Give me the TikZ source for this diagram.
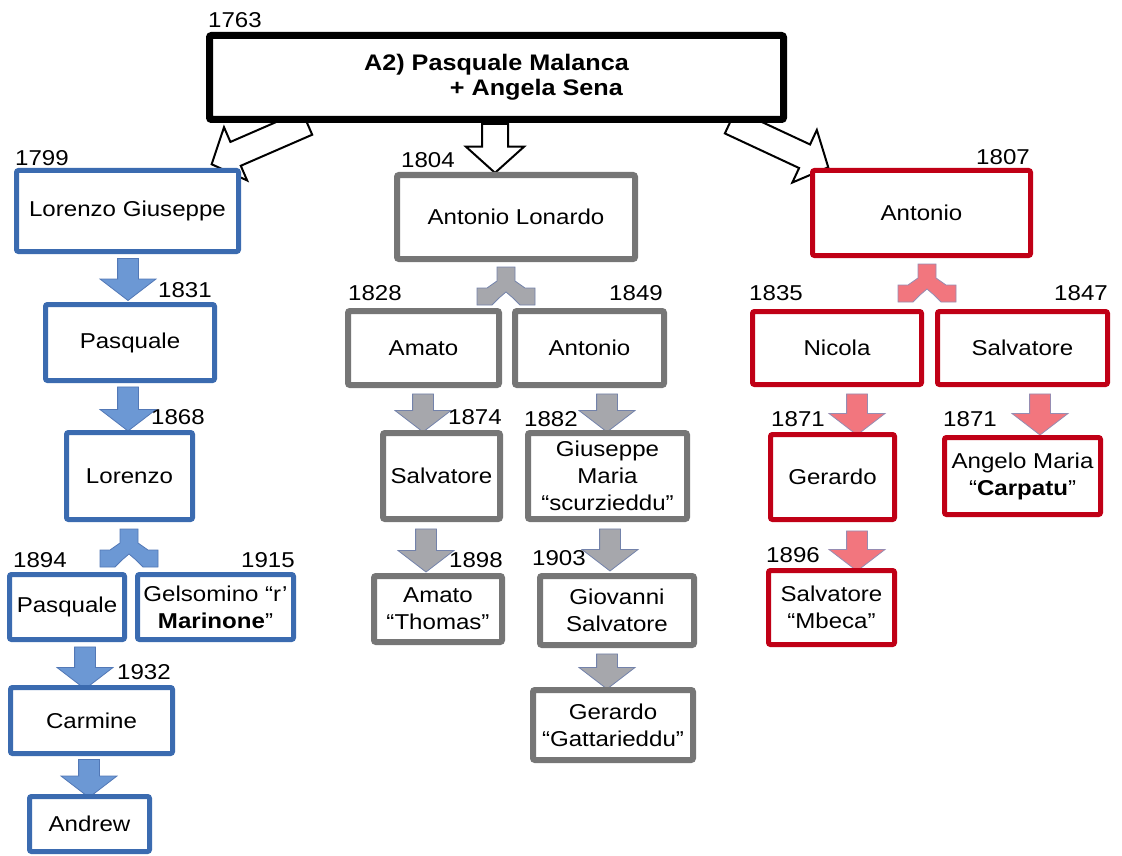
\documentclass[tikz,border=0pt]{standalone}
\usepackage{fontspec}
\setmainfont{Liberation Sans}[FakeStretch=1.12]
\usetikzlibrary{shapes.arrows}

\definecolor{boxblue}{RGB}{59,107,176}
\definecolor{boxgrey}{RGB}{118,118,118}
\definecolor{boxred}{RGB}{192,0,22}
\definecolor{arrblue}{RGB}{108,152,212}
\definecolor{arrblueline}{RGB}{82,120,182}
\definecolor{arrgrey}{RGB}{166,167,172}
\definecolor{arrgreyline}{RGB}{115,130,170}
\definecolor{arrred}{RGB}{242,118,126}
\definecolor{arrredline}{RGB}{150,140,178}

\tikzset{
  every node/.style={font=\fontsize{21.5}{27}\selectfont},
  famnode/.style={draw, fill=white, rounded corners=2pt, inner sep=0pt, align=center},
  topbox/.style={famnode, draw=black, line width=7pt},
  blubox/.style={famnode, draw=boxblue, line width=5pt},
  grybox/.style={famnode, draw=boxgrey, line width=6pt},
  redbox/.style={famnode, draw=boxred, line width=5pt},
  year/.style={inner sep=0pt},
  whitearr/.style={single arrow, fill=white, draw=black, line width=2pt, inner xsep=0pt, inner ysep=12pt,
    single arrow head extend=16pt, single arrow tip angle=96},
  downarr/.style={single arrow, rotate=-90, line width=0.8pt, inner xsep=0pt, inner ysep=10pt,
    single arrow head extend=17.5pt, single arrow tip angle=105, minimum height=42pt},
  bluarr/.style={downarr, fill=arrblue, draw=arrblueline},
  gryarr/.style={downarr, fill=arrgrey, draw=arrgreyline},
  redarr/.style={downarr, fill=arrred, draw=arrredline},
}

% fork arrow: top centre x, y, style
\newcommand{\splitarrow}[3]{%
  \draw[#3, line width=0.8pt, shift={(#1,#2)}] (-9,0) -- (9,0) -- (9,14) -- (19,21) -- (29,21) -- (29,38)
    -- (14,38) -- (7,31) -- (0,25) -- (-7,31) -- (-14,38) -- (-29,38) -- (-29,21) -- (-19,21) -- (-9,14) -- cycle;}

\begin{document}
\begin{tikzpicture}[x=1pt, y=-1pt]
\useasboundingbox (0,0) rectangle (1122,856);

% arrows from the parents
\node[whitearr, rotate=203.5, minimum height=104pt] (wl) at (264.7,141.2) {};
\node[whitearr, rotate=-90, minimum height=49pt] (wm) at (495,142.5) {};
\node[whitearr, rotate=-25, minimum height=108pt] (wr) at (774,142) {};

\node[topbox, minimum width=574pt, minimum height=84pt, align=right,
  font=\fontsize{22.5}{25}\selectfont\bfseries] (top) at (496.5,77.5) {A2) Pasquale Malanca\\+ Angela Sena\kern6pt};
\node[year] (y1763) at (235,20) {1763};

% blue branch
\node[bluarr] (ab1) at (128,275.5) {};
\node[bluarr, minimum height=44pt] (ab2) at (128,405) {};
\splitarrow{129}{529}{fill=arrblue, draw=arrblueline}
\node[bluarr] (ab3) at (85,664) {};
\node[bluarr, minimum height=38pt] (ab4) at (89,774.5) {};

\node[blubox, minimum width=222pt, minimum height=81pt] (lg) at (127.5,211) {Lorenzo Giuseppe};
\node[blubox, minimum width=169pt, minimum height=76pt] (pq1) at (130,342.5) {Pasquale};
\node[blubox, minimum width=126pt, minimum height=87pt] (lor) at (129.5,476) {Lorenzo};
\node[blubox, minimum width=115pt, minimum height=65pt] (pq2) at (67,607) {Pasquale};
\node[blubox, minimum width=156pt, minimum height=65pt] (gel) at (215.5,607) {Gelsomino “r’\\\textbf{Marinone}”};
\node[blubox, minimum width=162pt, minimum height=66pt] (car) at (91.5,720.5) {Carmine};
\node[blubox, minimum width=120pt, minimum height=55pt] (and) at (89.5,824) {Andrew};

\node[year] (y1799) at (42,158) {1799};
\node[year] (y1831) at (185,290) {1831};
\node[year] (y1868) at (178,417) {1868};
\node[year] (y1894) at (40,560) {1894};
\node[year] (y1915) at (268,560) {1915};
\node[year] (y1932) at (144,672) {1932};

% grey branch
\splitarrow{506}{267}{fill=arrgrey, draw=arrgreyline}
\node[gryarr, minimum height=38pt] (ag1) at (423,409) {};
\node[gryarr, minimum height=38pt] (ag2) at (607,409) {};
\node[gryarr, minimum height=43pt] (ag3) at (426,546.5) {};
\node[gryarr] (ag4) at (610,546) {};
\node[gryarr, minimum height=35pt] (ag5) at (607,667.5) {};

\node[grybox, minimum width=238pt, minimum height=84pt] (al) at (516,217) {Antonio Lonardo};
\node[grybox, minimum width=151pt, minimum height=74pt] (am1) at (423.5,348) {Amato};
\node[grybox, minimum width=149pt, minimum height=74pt] (an2) at (589.5,348) {Antonio};
\node[grybox, minimum width=117pt, minimum height=86pt] (sal1) at (441.5,476) {Salvatore};
\node[grybox, minimum width=159pt, minimum height=86pt] (gm) at (607.5,476) {Giuseppe\\Maria\\“scurzieddu”};
\node[grybox, minimum width=128pt, minimum height=66pt] (am2) at (438,609) {Amato\\“Thomas”};
\node[grybox, minimum width=154pt, minimum height=69pt] (gs) at (617,610.5) {Giovanni\\Salvatore};
\node[grybox, minimum width=160pt, minimum height=70pt] (gg) at (613,725) {Gerardo\\“Gattarieddu”};

\node[year] (y1804) at (428,160) {1804};
\node[year] (y1828) at (375,293) {1828};
\node[year] (y1849) at (636,293) {1849};
\node[year] (y1874) at (475,417) {1874};
\node[year] (y1882) at (551,419) {1882};
\node[year] (y1898) at (476,560) {1898};
\node[year] (y1903) at (559,558) {1903};

% red branch
\splitarrow{927}{264}{fill=arrred, draw=arrredline}
\node[redarr, minimum height=41pt] (ar1) at (857,410.5) {};
\node[redarr, minimum height=41pt] (ar2) at (1040,410.5) {};
\node[redarr, minimum height=40pt] (ar3) at (857,547) {};

\node[redbox, minimum width=218pt, minimum height=85pt] (an3) at (921.5,213) {Antonio};
\node[redbox, minimum width=169pt, minimum height=73pt] (nic) at (837,348) {Nicola};
\node[redbox, minimum width=170pt, minimum height=73pt] (sal2) at (1022.5,348) {Salvatore};
\node[redbox, minimum width=124pt, minimum height=85pt] (ger) at (832.5,477) {Gerardo};
\node[redbox, minimum width=156pt, minimum height=77pt] (ang) at (1022.5,476) {Angelo Maria\\“\textbf{Carpatu}”};
\node[redbox, minimum width=126pt, minimum height=74pt] (smb) at (831.5,607.5) {Salvatore\\“Mbeca”};

\node[year] (y1807) at (1003,157) {1807};
\node[year] (y1835) at (776,293) {1835};
\node[year] (y1847) at (1081,293) {1847};
\node[year] (y1871a) at (798,419) {1871};
\node[year] (y1871b) at (970,419) {1871};
\node[year] (y1896) at (793,555) {1896};
\end{tikzpicture}
\end{document}
